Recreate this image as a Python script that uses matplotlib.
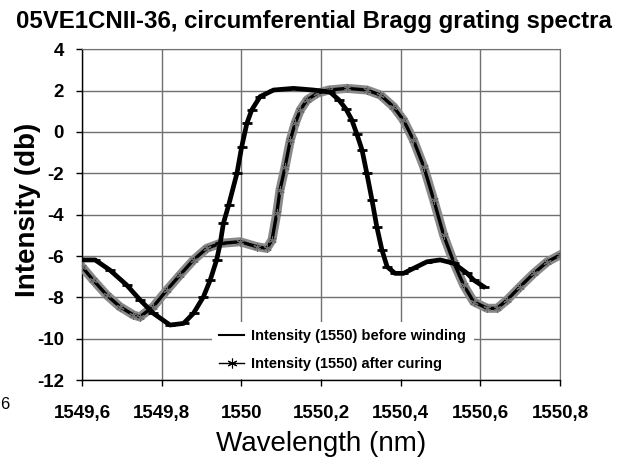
import matplotlib
matplotlib.use("Agg")
import matplotlib.pyplot as plt
import matplotlib.patheffects as pe
from matplotlib.lines import Line2D

# --- data ---
before_x = [1549.600, 1549.633, 1549.670, 1549.712, 1549.746, 1549.779, 1549.821,
            1549.855, 1549.880, 1549.905, 1549.922, 1549.938, 1549.947, 1549.955,
            1549.968, 1549.989, 1550.001, 1550.014, 1550.026, 1550.047, 1550.081,
            1550.131, 1550.181, 1550.223, 1550.245, 1550.263, 1550.277, 1550.290,
            1550.303, 1550.315, 1550.328, 1550.340, 1550.353, 1550.366, 1550.386,
            1550.407, 1550.432, 1550.466, 1550.499, 1550.533, 1550.567, 1550.583,
            1550.608]
before_y = [-6.19, -6.19, -6.68, -7.40, -8.13, -8.77, -9.34,
            -9.26, -8.77, -7.97, -7.16, -6.19, -5.39, -4.42,
            -3.55, -2.00, -0.71, 0.42, 1.06, 1.71, 2.03,
            2.11, 2.03, 1.93, 1.55, 1.10, 0.60, -0.10,
            -0.87, -2.00, -3.29, -4.58, -5.71, -6.52, -6.84,
            -6.84, -6.60, -6.28, -6.19, -6.35, -6.84, -7.16,
            -7.48]

after_x = [1549.600, 1549.628, 1549.662, 1549.695, 1549.729, 1549.745, 1549.779,
           1549.813, 1549.846, 1549.880, 1549.913, 1549.947, 1549.997, 1550.039,
           1550.064, 1550.077, 1550.089, 1550.097, 1550.110, 1550.123, 1550.135,
           1550.148, 1550.165, 1550.190, 1550.219, 1550.265, 1550.315, 1550.349,
           1550.382, 1550.407, 1550.432, 1550.458, 1550.483, 1550.508, 1550.533,
           1550.558, 1550.583, 1550.617, 1550.642, 1550.667, 1550.700, 1550.734,
           1550.768, 1550.800]
after_y = [-6.52, -7.16, -7.89, -8.45, -8.85, -8.95, -8.45,
           -7.65, -6.92, -6.19, -5.63, -5.39, -5.31, -5.55,
           -5.63, -5.23, -3.93, -2.81, -1.68, -0.39, 0.42,
           1.06, 1.55, 1.87, 2.03, 2.11, 2.03, 1.79,
           1.22, 0.58, -0.39, -1.68, -3.29, -5.00, -6.30,
           -7.40, -8.21, -8.53, -8.53, -8.13, -7.48, -6.84,
           -6.28, -5.95]

x_ticks = [1549.6, 1549.8, 1550.0, 1550.2, 1550.4, 1550.6, 1550.8]
x_tick_labels = ["1549,6", "1549,8", "1550", "1550,2", "1550,4", "1550,6", "1550,8"]
y_ticks = [4, 2, 0, -2, -4, -6, -8, -10, -12]

label_before = "Intensity (1550) before winding"
label_after = "Intensity (1550) after curing"

plt.rcParams['font.family'] = ['Liberation Sans', 'DejaVu Sans']

fig = plt.figure(figsize=(6.21, 4.66), dpi=100)
ax = fig.add_axes([0.132, 0.1845, 0.7698, 0.7097])

# series 2: grey star fuzz around a black core
ax.plot(after_x, after_y, color='black', lw=2.4, zorder=3,
        path_effects=[pe.Stroke(linewidth=6.5, foreground='#8a8a8a'), pe.Normal()])
ax.plot(after_x, after_y, ls='none', marker=(6, 2, 0), ms=6, mew=0.8,
        color='#6a6a6a', zorder=3)

# series 1: black line with dash markers
ax.plot(before_x, before_y, color='black', lw=3.4, zorder=4,
        marker='_', ms=7.5, mew=2)

ax.set_xlim(1549.6, 1550.8)
ax.set_ylim(-12, 4)
ax.set_xticks(x_ticks)
ax.set_xticklabels(x_tick_labels)
ax.set_yticks(y_ticks)
ax.set_yticklabels([str(v) for v in y_ticks])
for lab in ax.get_xticklabels() + ax.get_yticklabels():
    lab.set_fontweight('bold')
    lab.set_fontsize(13.5)
ax.tick_params(axis='x', direction='out', length=4.5, width=1, pad=13.5)
ax.tick_params(axis='y', direction='out', length=4.5, width=1, pad=8.5)

ax.grid(True, color='#707070', lw=1)
ax.set_axisbelow(True)
for side in ['top', 'right']:
    ax.spines[side].set_color('#707070')
for side in ['left', 'bottom']:
    ax.spines[side].set_color('black')
    ax.spines[side].set_linewidth(1)

ax.set_xlabel("Wavelength (nm)", fontsize=20)
ax.xaxis.set_label_coords(0.5, -0.194)
ax.xaxis.label.set_va('center')
ax.set_ylabel("Intensity (db)", fontsize=20, fontweight='bold')
ax.yaxis.set_label_coords(-0.113, 0.515)
ax.yaxis.label.set_va('center')

fig.text(0.506, 0.939, "05VE1CNII-36, circumferential Bragg grating spectra",
         ha='center', va='baseline', fontsize=17.3, fontweight='bold')
# stray label fragment at the left edge of the reference
fig.text(0.001, 0.131, "6", ha='left', va='center', fontsize=12)

handles = [Line2D([], [], color='black', lw=1.5),
           Line2D([], [], color='black', lw=1, marker=(6, 2, 0), ms=7, mew=0.8)]
leg = ax.legend(handles, [label_before, label_after], loc='upper left',
                bbox_to_anchor=(0.257, 0.197), frameon=True, fancybox=False,
                edgecolor='none', facecolor='white', framealpha=1,
                prop={'weight': 'bold', 'size': 10.5}, handlelength=1.7,
                handletextpad=0.5, labelspacing=0.95, borderpad=0.5)
leg.set_zorder(5)

fig.savefig("out.png", dpi=100)
